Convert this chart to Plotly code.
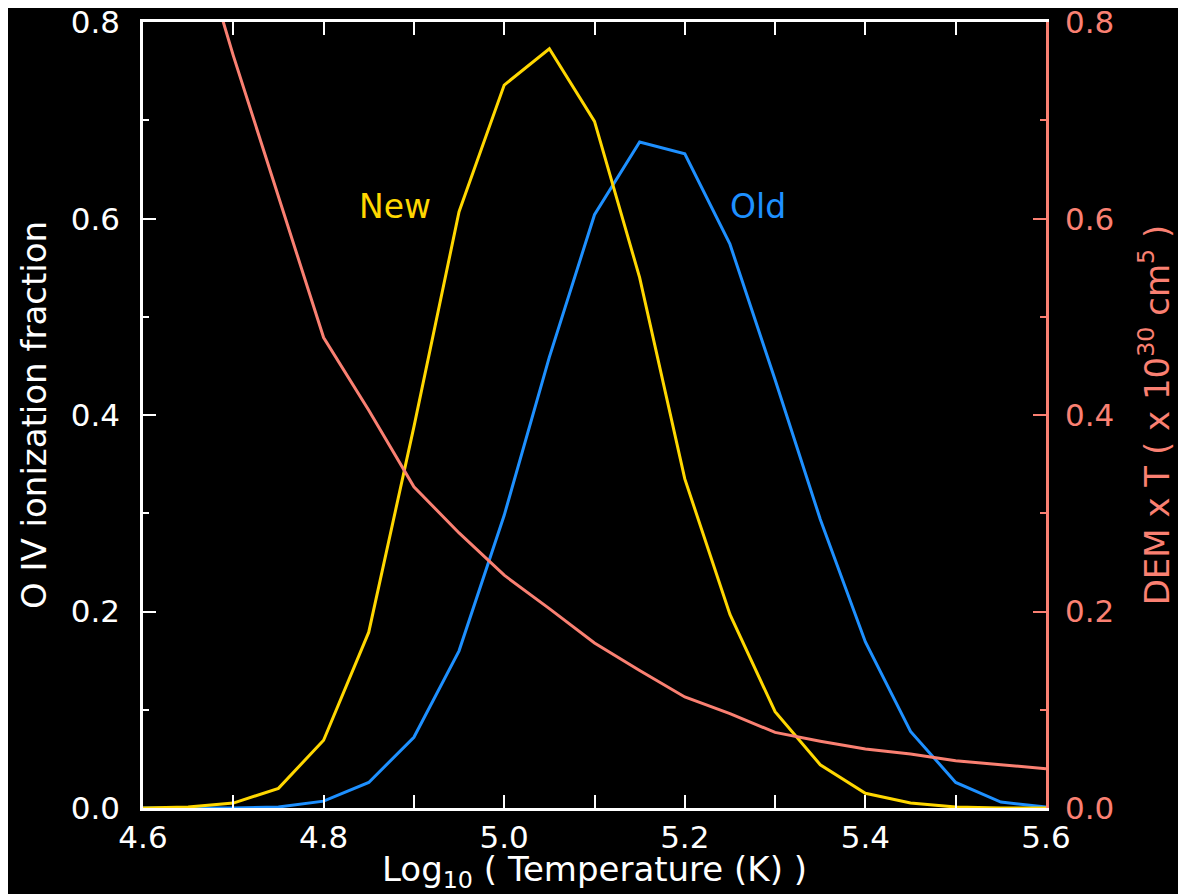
import plotly.graph_objects as go

log_t = [4.60, 4.65, 4.70, 4.75, 4.80, 4.85, 4.90, 4.95, 5.00, 5.05, 5.10,
         5.15, 5.20, 5.25, 5.30, 5.35, 5.40, 5.45, 5.50, 5.55, 5.60]
frac_new = [0.000, 0.001, 0.005, 0.020, 0.069, 0.179, 0.388, 0.607, 0.736, 0.773, 0.699,
            0.540, 0.335, 0.197, 0.098, 0.044, 0.015, 0.005, 0.001, 0.000, 0.000]
frac_old = [0.000, 0.000, 0.000, 0.001, 0.007, 0.026, 0.072, 0.160, 0.298, 0.459, 0.604,
            0.678, 0.666, 0.574, 0.436, 0.294, 0.169, 0.078, 0.026, 0.006, 0.001]
dem_t = [1.15, 0.92, 0.766, 0.622, 0.479, 0.405, 0.327, 0.280, 0.237, 0.203, 0.168,
         0.140, 0.113, 0.096, 0.077, 0.068, 0.060, 0.055, 0.048, 0.044, 0.040]

y_ticks = [0.0, 0.2, 0.4, 0.6, 0.8]
x_ticks = [4.6, 4.8, 5.0, 5.2, 5.4, 5.6]

WHITE = "#ffffff"
GOLD = "#FFD700"
BLUE = "#1E90FF"
SALMON = "#FA8072"
FONT = "DejaVu Sans"
TICK_FS = 31
TITLE_FS = 34
ANN_FS = 33
Y_RANGE = [0, 0.8002]

fig = go.Figure()
fig.add_trace(go.Scatter(x=log_t, y=dem_t, mode="lines", yaxis="y2",
                         line=dict(color=SALMON, width=3), showlegend=False))
fig.add_trace(go.Scatter(x=log_t, y=frac_old, mode="lines",
                         line=dict(color=BLUE, width=3), showlegend=False))
fig.add_trace(go.Scatter(x=log_t, y=frac_new, mode="lines",
                         line=dict(color=GOLD, width=3), showlegend=False))

fig.add_annotation(x=4.879, y=0.612, text="New", showarrow=False,
                   font=dict(color=GOLD, size=ANN_FS, family=FONT))
fig.add_annotation(x=5.281, y=0.612, text="Old", showarrow=False,
                   font=dict(color=BLUE, size=ANN_FS, family=FONT))

fig.update_layout(
    width=1178, height=886,
    paper_bgcolor="black", plot_bgcolor="black",
    margin=dict(l=135, r=140, t=14, b=86, autoexpand=False),
    font=dict(family=FONT, color=WHITE, size=TICK_FS),
    xaxis=dict(
        range=[4.6, 5.6], tickvals=x_ticks, ticktext=[f"{v:.1f}" for v in x_ticks],
        showgrid=False, zeroline=False, showline=True, linecolor=WHITE, linewidth=2.5,
        mirror="allticks", ticks="inside", ticklen=13, tickwidth=2, tickcolor=WHITE,
        minor=dict(dtick=0.1, ticks="inside", ticklen=6, tickwidth=2, tickcolor=WHITE, showgrid=False),
        tickfont=dict(size=TICK_FS, color=WHITE, family=FONT),
        ticklabeloverflow="allow", automargin=False,
        title=dict(text="Log<sub>10</sub> ( Temperature (K) )", font=dict(size=TITLE_FS, color=WHITE), standoff=0),
    ),
    yaxis=dict(
        range=Y_RANGE, tickvals=y_ticks, ticktext=[f"{v:.1f}" for v in y_ticks],
        showgrid=False, zeroline=False, showline=True, linecolor=WHITE, linewidth=2.5,
        ticks="inside", ticklen=13, tickwidth=2, tickcolor=WHITE,
        minor=dict(dtick=0.1, ticks="inside", ticklen=6, tickwidth=2, tickcolor=WHITE, showgrid=False),
        tickfont=dict(size=TICK_FS, color=WHITE, family=FONT),
        ticklabelstandoff=14, ticklabeloverflow="allow", automargin=False,
        title=dict(text="O IV ionization fraction", font=dict(size=TITLE_FS, color=WHITE), standoff=14),
    ),
    yaxis2=dict(
        overlaying="y", side="right",
        range=Y_RANGE, tickvals=y_ticks, ticktext=[f"{v:.1f}" for v in y_ticks],
        showgrid=False, zeroline=False, showline=True, linecolor=SALMON, linewidth=2.5,
        ticks="inside", ticklen=13, tickwidth=2, tickcolor=SALMON,
        minor=dict(dtick=0.1, ticks="inside", ticklen=6, tickwidth=2, tickcolor=SALMON, showgrid=False),
        tickfont=dict(size=TICK_FS, color=SALMON, family=FONT),
        ticklabelstandoff=10, ticklabeloverflow="allow", automargin=False,
        title=dict(text="DEM x T ( x 10<sup>30</sup> cm<sup>5</sup> )", font=dict(size=TITLE_FS, color=SALMON), standoff=32),
    ),
)

fig.write_html("out.html")
